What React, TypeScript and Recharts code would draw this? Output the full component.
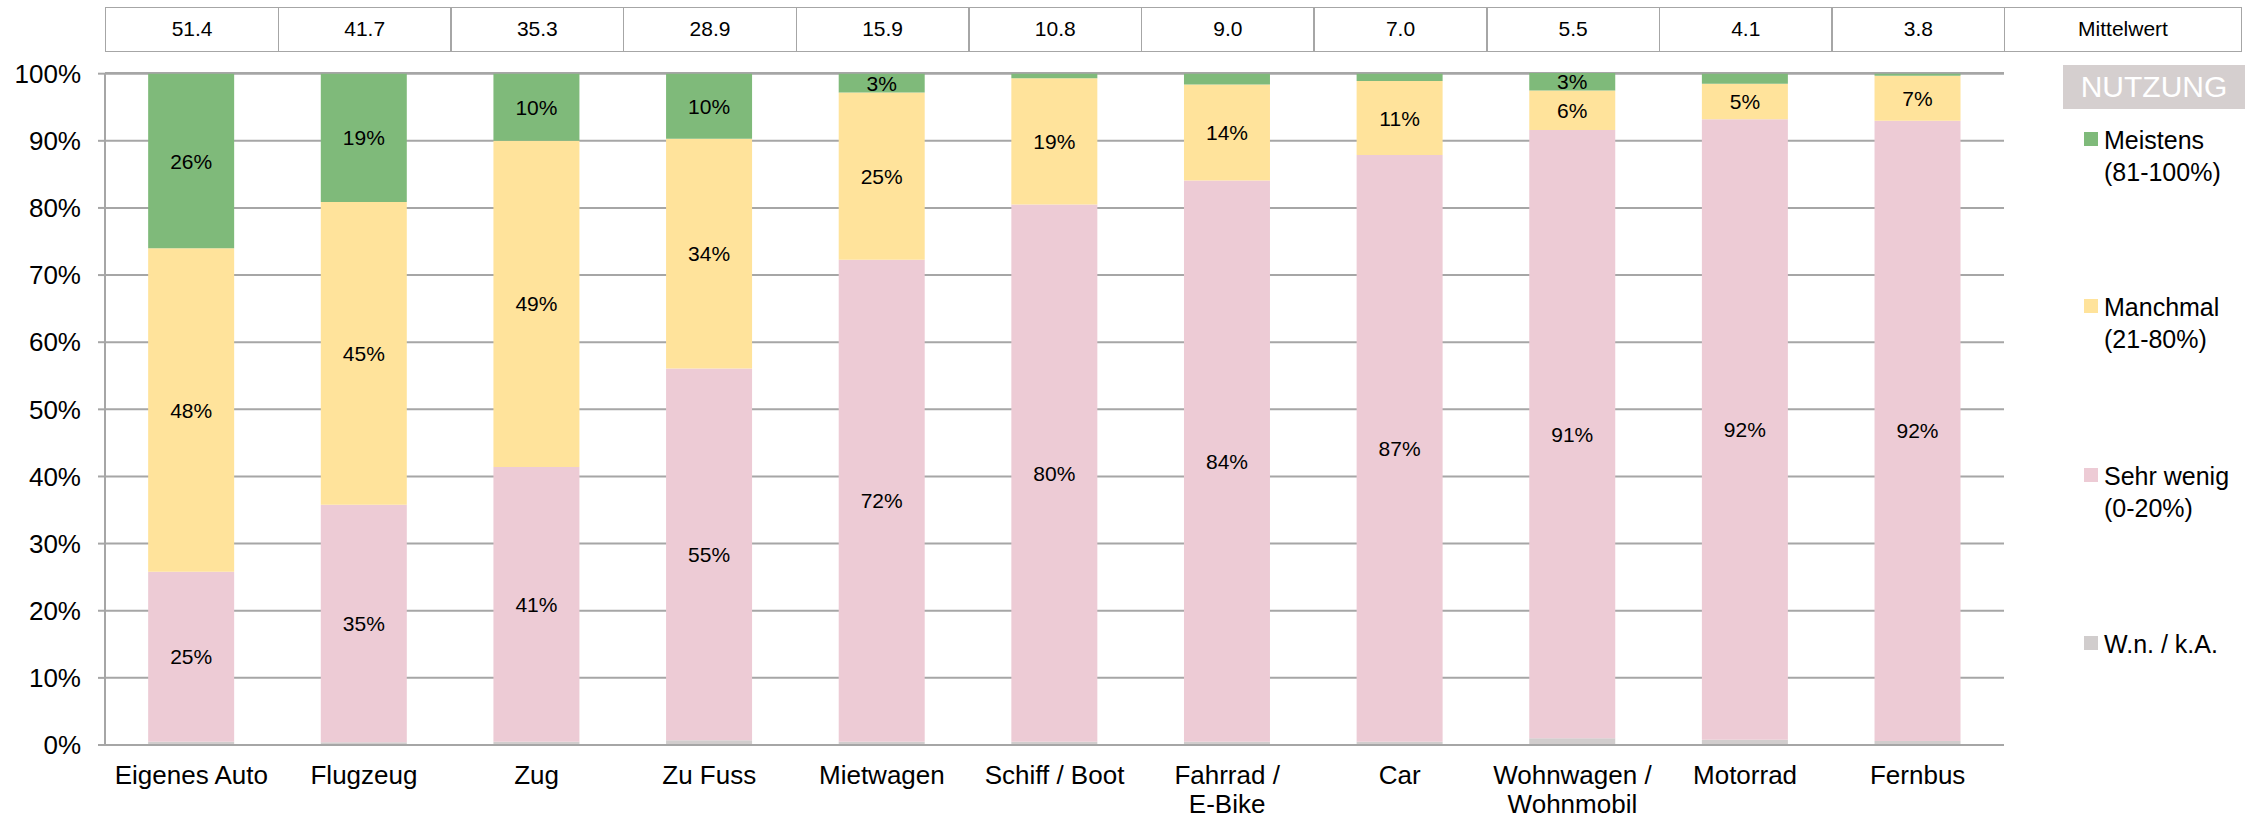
import React from 'react'
import { BarChart, Bar, XAxis, YAxis, CartesianGrid, LabelList } from 'recharts'

const categories = [
  'Eigenes Auto', 'Flugzeug', 'Zug', 'Zu Fuss', 'Mietwagen', 'Schiff / Boot',
  'Fahrrad /\nE-Bike', 'Car', 'Wohnwagen /\nWohnmobil', 'Motorrad', 'Fernbus',
]
const means = ['51.4', '41.7', '35.3', '28.9', '15.9', '10.8', '9.0', '7.0', '5.5', '4.1', '3.8']

// share in % per category, stacked bottom -> top
const wnka = [0.5, 0.4, 0.5, 0.7, 0.5, 0.5, 0.5, 0.5, 1.0, 0.8, 0.6]
const sehrWenig = [25.3, 35.4, 40.9, 55.4, 71.8, 80.0, 83.6, 87.4, 90.6, 92.4, 92.4]
const manchmal = [48.2, 45.1, 48.6, 34.2, 24.9, 18.8, 14.3, 11.0, 5.9, 5.3, 6.7]
const meistens = [26.0, 19.1, 10.0, 9.7, 2.8, 0.7, 1.6, 1.1, 2.6, 1.5, 0.3]

const yTicks = [0, 10, 20, 30, 40, 50, 60, 70, 80, 90, 100]

const series = [
  { key: 'meistens', name: 'Meistens\n(81-100%)', color: '#7FBA7A' },
  { key: 'manchmal', name: 'Manchmal\n(21-80%)', color: '#FFE39B' },
  { key: 'sehrWenig', name: 'Sehr wenig\n(0-20%)', color: '#EDCBD5' },
  { key: 'wnka', name: 'W.n. / k.A.', color: '#D1CDCD' },
]

const data = categories.map((c, i) => ({
  name: c,
  wnka: wnka[i],
  sehrWenig: sehrWenig[i],
  manchmal: manchmal[i],
  meistens: meistens[i],
}))

const FONT = '"Liberation Sans", Arial, sans-serif'
const GRID = '#A6A6A6'
const W = 2264
const H = 818
const PLOT_LEFT = 105
const PLOT_RIGHT = 2004
const PLOT_TOP = 73
const PLOT_BOTTOM = 745
const band = (PLOT_RIGHT - PLOT_LEFT) / categories.length

const XTick = (props: any) => {
  const { x, y, payload } = props
  const lines = String(payload.value).split('\n')
  return (
    <text x={x} y={y + 39} textAnchor="middle" fill="#000" fontSize={26} fontFamily={FONT}>
      {lines.map((l, i) => (
        <tspan key={i} x={x} dy={i === 0 ? 0 : 29}>{l}</tspan>
      ))}
    </text>
  )
}

const segLabel = (props: any) => {
  const { x, y, width, height, value } = props
  if (value == null || value < 2.5) return null
  return (
    <text
      x={x + width / 2}
      y={y + height / 2}
      dy="0.36em"
      textAnchor="middle"
      fill="#000"
      fontSize={21}
      fontFamily={FONT}
    >
      {Math.round(value)}%
    </text>
  )
}

const legendTops = [59, 226, 395, 563]

const LegendBox = () => (
  <div style={{ position: 'absolute', left: 2063, top: 65, width: 182, height: 620, fontFamily: FONT }}>
    <div
      style={{
        position: 'absolute', left: 0, top: 0, width: 182, height: 44,
        background: '#D5CFCF', color: '#fff', fontSize: 30, lineHeight: '44px', textAlign: 'center',
      }}
    >
      NUTZUNG
    </div>
    {series.map((s, i) => (
      <div key={s.key} style={{ position: 'absolute', left: 21, top: legendTops[i], display: 'flex' }}>
        <div style={{ width: 14, height: 14, background: s.color, marginTop: 8, marginRight: 6 }} />
        <div style={{ fontSize: 25, lineHeight: '32px', color: '#000', whiteSpace: 'pre', textAlign: 'left' }}>
          {s.name}
        </div>
      </div>
    ))}
  </div>
)

const cell = (left: number, width: number, text: string, key: string) => (
  <div
    key={key}
    style={{
      position: 'absolute', left, top: 7, width, height: 45, boxSizing: 'border-box',
      border: `1.5px solid ${GRID}`, fontSize: 21, lineHeight: '42px', textAlign: 'center',
      fontFamily: FONT, color: '#000',
    }}
  >
    {text}
  </div>
)

export default function App() {
  return (
    <div style={{ position: 'absolute', left: 0, top: 0, width: W, height: H, background: '#fff' }}>
      {means.map((m, i) => cell(PLOT_LEFT + i * band, band + 1.5, m, 'm' + i))}
      {cell(PLOT_RIGHT, 2242 - PLOT_RIGHT, 'Mittelwert', 'label')}
      <div style={{ position: 'absolute', left: 0, top: 0 }}>
        <BarChart
          width={W}
          height={H}
          data={data}
          margin={{ top: PLOT_TOP, right: W - PLOT_RIGHT, left: 0, bottom: 0 }}
          barCategoryGap="25%"
        >
          <CartesianGrid vertical={false} stroke={GRID} strokeWidth={2} />
          <XAxis
            dataKey="name"
            height={H - PLOT_BOTTOM}
            interval={0}
            tickLine={false}
            tickSize={0}
            tickMargin={0}
            axisLine={{ stroke: GRID, strokeWidth: 2 }}
            tick={<XTick />}
          />
          <YAxis
            width={PLOT_LEFT}
            domain={[0, 100]}
            ticks={yTicks}
            interval={0}
            tickFormatter={(v: number) => `${v}%`}
            tickSize={7}
            tickMargin={17}
            tickLine={{ stroke: GRID, strokeWidth: 2 }}
            axisLine={{ stroke: GRID, strokeWidth: 2 }}
            tick={{ fill: '#000', fontSize: 26, fontFamily: FONT }}
          />
          {[...series].reverse().map(s => (
            <Bar
              key={s.key}
              dataKey={s.key}
              stackId="a"
              fill={s.color}
              isAnimationActive={false}
              name={s.name}
            >
              {s.key !== 'wnka' && <LabelList dataKey={s.key} content={segLabel} />}
            </Bar>
          ))}
        </BarChart>
      </div>
      <LegendBox />
    </div>
  )
}
